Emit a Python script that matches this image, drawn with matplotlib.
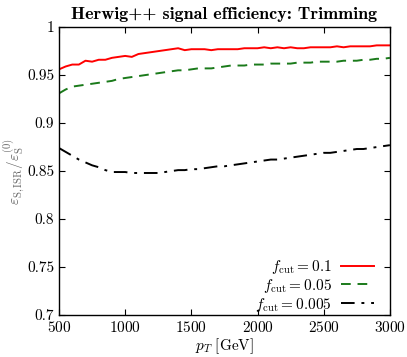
import matplotlib
matplotlib.use("Agg")
import matplotlib.pyplot as plt
from matplotlib.ticker import FuncFormatter

plt.rcParams['font.family'] = 'serif'
plt.rcParams['font.serif'] = ['cmr10', 'DejaVu Serif']
plt.rcParams['mathtext.fontset'] = 'cm'
plt.rcParams['axes.formatter.use_mathtext'] = True

# pT bins (GeV)
pt = list(range(500, 3001, 50))

# f_cut = 0.1
eff_01 = [0.956, 0.959, 0.961, 0.961, 0.965, 0.964, 0.966, 0.966, 0.968, 0.969,
          0.970, 0.969, 0.972, 0.973, 0.974, 0.975, 0.976, 0.977, 0.978, 0.976,
          0.977, 0.977, 0.977, 0.976, 0.977, 0.977, 0.977, 0.977, 0.978, 0.978,
          0.978, 0.979, 0.978, 0.979, 0.978, 0.979, 0.978, 0.978, 0.979, 0.979,
          0.979, 0.979, 0.980, 0.979, 0.980, 0.980, 0.980, 0.980, 0.981, 0.981,
          0.981]
# f_cut = 0.05
eff_005 = [0.931, 0.935, 0.938, 0.939, 0.940, 0.941, 0.942, 0.943, 0.944, 0.946,
           0.947, 0.948, 0.949, 0.950, 0.951, 0.952, 0.953, 0.954, 0.955, 0.955,
           0.956, 0.957, 0.957, 0.957, 0.958, 0.959, 0.960, 0.960, 0.960, 0.961,
           0.961, 0.961, 0.962, 0.962, 0.962, 0.962, 0.963, 0.963, 0.963, 0.964,
           0.964, 0.964, 0.964, 0.965, 0.965, 0.965, 0.966, 0.966, 0.967, 0.967,
           0.968]
# f_cut = 0.005
eff_0005 = [0.874, 0.870, 0.866, 0.862, 0.859, 0.856, 0.854, 0.851, 0.849, 0.849,
            0.849, 0.848, 0.848, 0.848, 0.848, 0.848, 0.849, 0.850, 0.851, 0.851,
            0.852, 0.852, 0.853, 0.854, 0.855, 0.855, 0.856, 0.857, 0.858, 0.859,
            0.860, 0.861, 0.862, 0.862, 0.863, 0.864, 0.865, 0.866, 0.867, 0.868,
            0.869, 0.869, 0.870, 0.871, 0.872, 0.873, 0.873, 0.874, 0.875, 0.876,
            0.877]

fig = plt.figure(figsize=(4.07, 3.57), dpi=100)
ax = fig.add_axes([0.145, 0.1176, 0.813, 0.8064])

ax.plot(pt, eff_01, color='red', lw=1.4, label=r'$f_{\rm cut}=0.1$')
ax.plot(pt, eff_005, color='#1a7a1a', lw=1.4, dashes=(5, 3.5), label=r'$f_{\rm cut}=0.05$')
ax.plot(pt, eff_0005, color='black', lw=1.4, dashes=(7, 3.5, 1.5, 3.5), label=r'$f_{\rm cut}=0.005$')

ax.set_xlim(500, 3000)
ax.set_ylim(0.7, 1.0)
ax.set_xticks([500, 1000, 1500, 2000, 2500, 3000])
ax.set_yticks([0.7, 0.75, 0.8, 0.85, 0.9, 0.95, 1.0])
ax.yaxis.set_major_formatter(FuncFormatter(lambda v, p: '%g' % round(v, 3)))
ax.tick_params(direction='in', top=True, right=True, labelsize=11, length=4, width=0.8)
for s in ax.spines.values():
    s.set_linewidth(1.0)

ax.set_xlabel(r'$p_T\ [\mathrm{GeV}]$', fontsize=11, labelpad=1)
ax.set_ylabel(r'$\varepsilon_{\rm S,ISR}/\varepsilon_{\rm S}^{(0)}$', fontsize=11,
              labelpad=0, color='0.4')
ax.set_title('Herwig++ signal efficiency: Trimming', fontsize=13,
             fontfamily='cmb10', pad=6)

ax.legend(loc='lower right', bbox_to_anchor=(0.985, -0.032), frameon=False,
          markerfirst=False, fontsize=11, handlelength=2.2, labelspacing=0.05,
          borderaxespad=0.3, handletextpad=0.6)

fig.savefig('out.png', dpi=100)
